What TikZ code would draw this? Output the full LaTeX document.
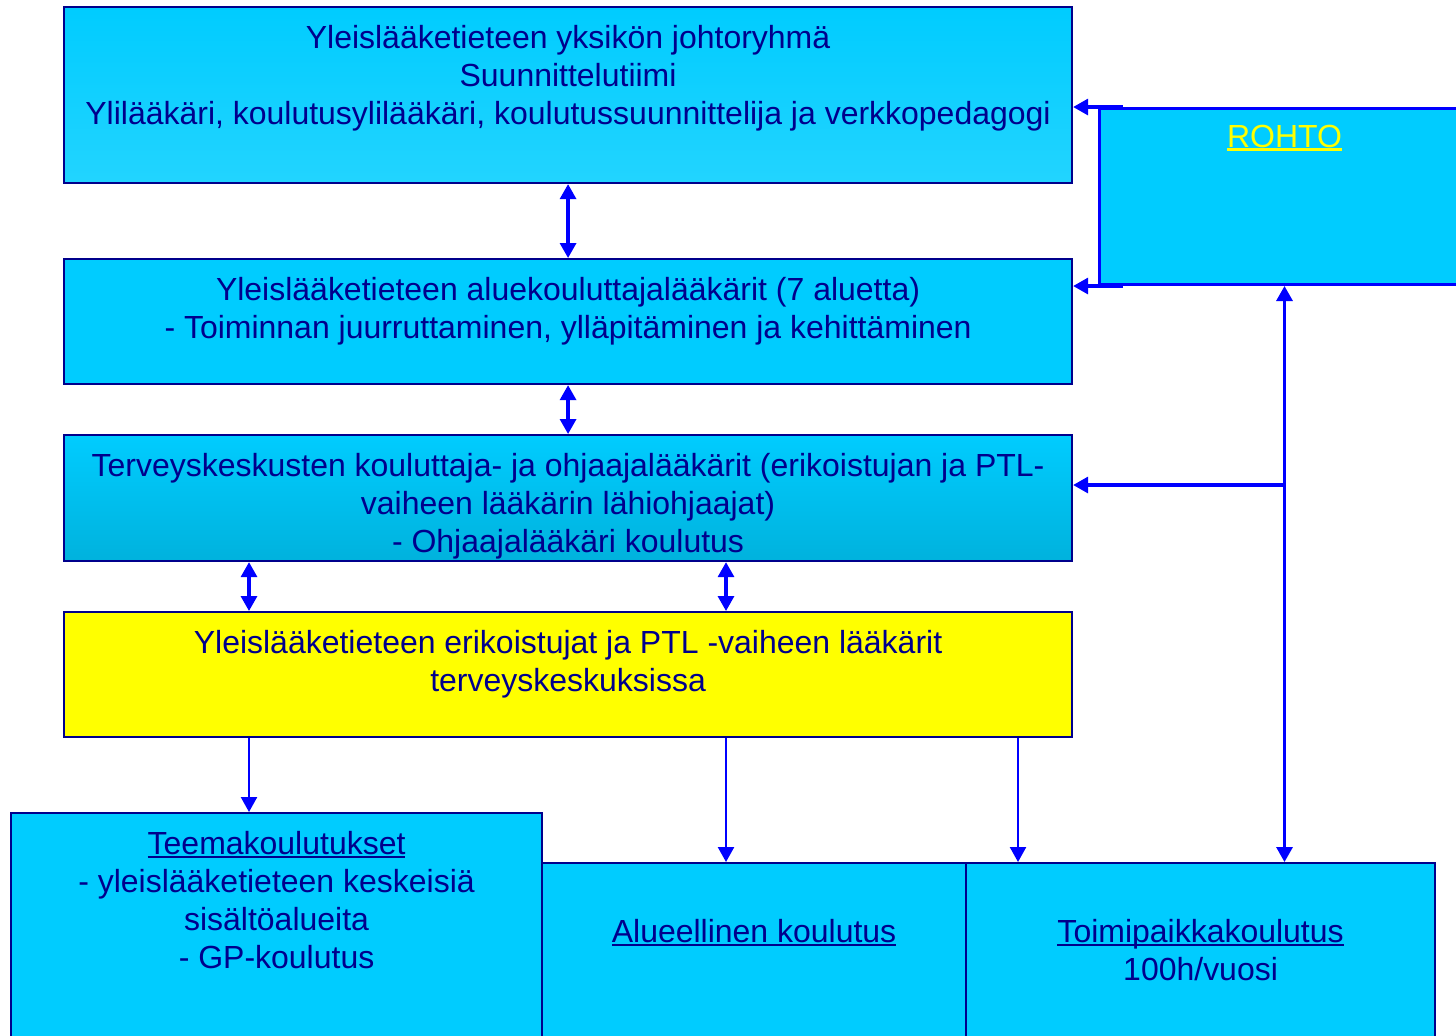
\documentclass[tikz,border=0pt]{standalone}
\usepackage{fontspec}
\setmainfont{Liberation Sans}
\usetikzlibrary{arrows.meta}
\definecolor{syaani}{RGB}{0,204,255}
\definecolor{vaalea}{RGB}{34,212,255}
\definecolor{tummempi}{RGB}{0,178,221}
\definecolor{tumma}{RGB}{0,0,140}
\definecolor{sininen}{RGB}{0,0,255}
\definecolor{keltainen}{RGB}{255,255,0}
\newcommand{\alla}[1]{\leavevmode\setbox0\hbox{#1}\rlap{\rule[-0.11em]{\wd0}{0.065em}}\box0}

\begin{document}
\begin{tikzpicture}[
    laatikko/.style={rectangle, draw=tumma, line width=0.6pt, fill=syaani, inner sep=0pt, anchor=north west},
    teksti/.style={font=\fontsize{9.1}{10.8}\selectfont, text=tumma, align=center, inner sep=0pt, anchor=north},
    nuoli/.style={draw=sininen, line width=0.9pt, -{Triangle[length=0.15cm, width=0.16cm]}},
    kaksi/.style={nuoli, {Triangle[length=0.15cm, width=0.16cm]}-{Triangle[length=0.15cm, width=0.16cm]}}
]
            \clip (0, 0) rectangle (14.56, -10.35);
            \coordinate (xa) at (2.49, 0);
            \coordinate (xb) at (7.26, 0);
            \coordinate (xc) at (10.18, 0);
            \coordinate (haara) at (12.83, -4.85);

            \node[laatikko, top color=syaani, bottom color=vaalea, minimum width=10.08cm, minimum height=1.76cm] (yks) at (0.63, -0.06) {};
            \node[laatikko, minimum width=10.08cm, minimum height=1.25cm] (alue) at (0.63, -2.58) {};
            \node[laatikko, top color=syaani, bottom color=tummempi, minimum width=10.08cm, minimum height=1.26cm] (terv) at (0.63, -4.34) {};
            \node[laatikko, fill=keltainen, minimum width=10.08cm, minimum height=1.25cm] (erik) at (0.63, -6.11) {};
            \node[laatikko, minimum width=5.31cm, minimum height=3cm] (teema) at (0.10, -8.12) {};
            \node[laatikko, minimum width=4.24cm, minimum height=2.5cm] (alueel) at (5.41, -8.62) {};
            \node[laatikko, minimum width=4.69cm, minimum height=2.5cm] (toimi) at (9.65, -8.62) {};
            \node[laatikko, draw=sininen, line width=0.85pt, minimum width=3.7cm, minimum height=1.76cm] (rohto) at (10.98, -1.07) {};

            \node[teksti] (yks-t) at ([yshift=-0.185cm]yks.north) {Yleislääketieteen yksikön johtoryhmä\\Suunnittelutiimi\\Ylilääkäri, koulutusylilääkäri, koulutussuunnittelija ja verkkopedagogi};
            \node[teksti] (alue-t) at ([yshift=-0.185cm]alue.north) {Yleislääketieteen aluekouluttajalääkärit (7 aluetta)\\- Toiminnan juurruttaminen, ylläpitäminen ja kehittäminen};
            \node[teksti] (terv-t) at ([yshift=-0.185cm]terv.north) {Terveyskeskusten kouluttaja- ja ohjaajalääkärit (erikoistujan ja PTL-\\vaiheen lääkärin lähiohjaajat)\\- Ohjaajalääkäri koulutus};
            \node[teksti] (erik-t) at ([yshift=-0.185cm]erik.north) {Yleislääketieteen erikoistujat ja PTL -vaiheen lääkärit\\terveyskeskuksissa};
            \node[teksti] (teema-t) at ([yshift=-0.185cm]teema.north) {\alla{Teemakoulutukset}\\- yleislääketieteen keskeisiä\\sisältöalueita\\- GP-koulutus};
            \node[teksti] (alueel-t) at ([yshift=-0.57cm]alueel.north) {\alla{Alueellinen koulutus}};
            \node[teksti] (toimi-t) at ([yshift=-0.57cm]toimi.north) {\alla{Toimipaikkakoulutus}\\100h/vuosi};
            \node[teksti, text=keltainen] (rohto-t) at ([yshift=-0.17cm]rohto.north) {\alla{ROHTO}};

            \draw[kaksi] (yks.south) -- (alue.north);
            \draw[kaksi] (alue.south) -- (terv.north);
            \draw[kaksi] (terv.south -| xa) -- (erik.north -| xa);
            \draw[kaksi] (terv.south -| xb) -- (erik.north -| xb);
            \draw[nuoli, line width=0.65pt] (erik.south -| xa) -- (teema.north -| xa);
            \draw[nuoli, line width=0.65pt] (erik.south -| xb) -- (alueel.north -| xb);
            \draw[nuoli, line width=0.65pt] (erik.south -| xc) -- (toimi.north -| xc);
            \draw[kaksi] (rohto.south) -- (rohto.south |- toimi.north);
            \draw[nuoli] (haara) -- (haara -| terv.east);
            \draw[nuoli] ([xshift=0.25cm]rohto.north west) -- (rohto.north west -| yks.east);
            \draw[nuoli] ([xshift=0.25cm]rohto.south west) -- (rohto.south west -| alue.east);

        \end{tikzpicture}
\end{document}
